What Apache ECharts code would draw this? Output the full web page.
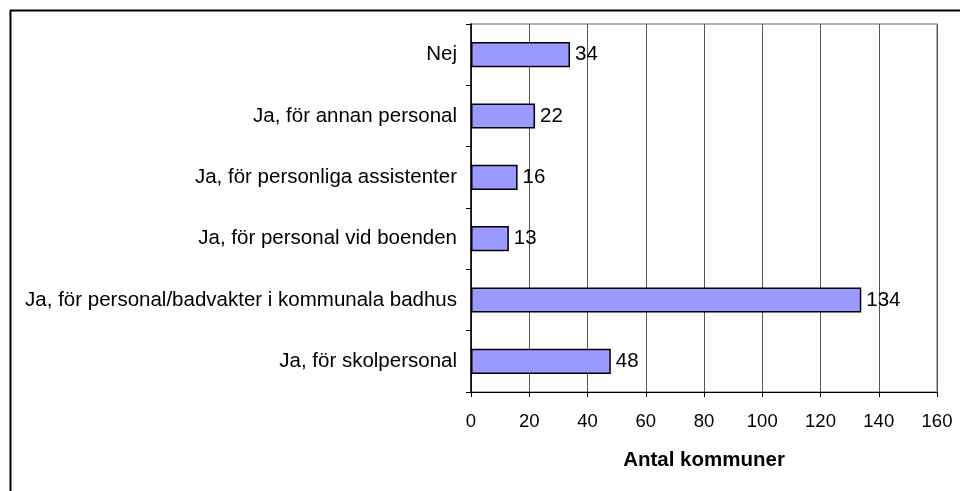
<!DOCTYPE html>
<html>
<head>
<meta charset="utf-8">
<script src="https://cdn.jsdelivr.net/npm/echarts@6/dist/echarts.min.js"></script>
<style>
  html, body { margin: 0; padding: 0; background: #fff; }
  #chart { width: 960px; height: 491px; }
</style>
</head>
<body>
<div id="chart"></div>
<script>
// kategorier uppifrån och ned
const categories = [
  'Nej',
  'Ja, för annan personal',
  'Ja, för personliga assistenter',
  'Ja, för personal vid boenden',
  'Ja, för personal/badvakter i kommunala badhus',
  'Ja, för skolpersonal'
];
const values = [34, 22, 16, 13, 134, 48];
const xTicks = [0, 160, 20]; // min, max, intervall

const font = 'Liberation Sans, Arial, sans-serif';
const chart = echarts.init(document.getElementById('chart'));
chart.setOption({
  animation: false,
  textStyle: { fontFamily: font },
  graphic: [{
    type: 'rect', left: 8, top: 8, silent: true,
    shape: { width: 960, height: 500 },
    style: { fill: 'none', stroke: '#000', lineWidth: 2 }
  }],
  grid: {
    left: 471, right: 23, top: 24, bottom: 99,
    show: true, borderColor: '#999', borderWidth: 1.5
  },
  xAxis: {
    type: 'value',
    min: xTicks[0], max: xTicks[1], interval: xTicks[2],
    name: 'Antal kommuner',
    nameLocation: 'middle',
    nameGap: 58,
    nameTextStyle: { fontSize: 20.5, fontWeight: 'bold', color: '#000', fontFamily: font },
    axisLine: { show: true, lineStyle: { color: '#000', width: 1 } },
    axisTick: { show: true, length: 5, lineStyle: { color: '#000' } },
    axisLabel: { fontSize: 18.5, color: '#000', margin: 20, fontFamily: font },
    splitLine: { show: true, lineStyle: { color: '#555', width: 1 } }
  },
  yAxis: {
    type: 'category',
    data: categories,
    inverse: true,
    axisLine: { show: true, lineStyle: { color: '#000', width: 1.5 } },
    axisTick: { show: true, length: 5, lineStyle: { color: '#000' } },
    axisLabel: { fontSize: 20.5, color: '#000', margin: 14, fontFamily: font },
    splitLine: { show: false }
  },
  series: [{
    type: 'bar',
    data: values,
    barWidth: '41%',
    itemStyle: { color: '#9999FF', borderColor: '#000', borderWidth: 1.5 },
    label: {
      show: true, position: 'right', distance: 5,
      fontSize: 20.5, color: '#000', fontFamily: font
    }
  }]
});
</script>
</body>
</html>
